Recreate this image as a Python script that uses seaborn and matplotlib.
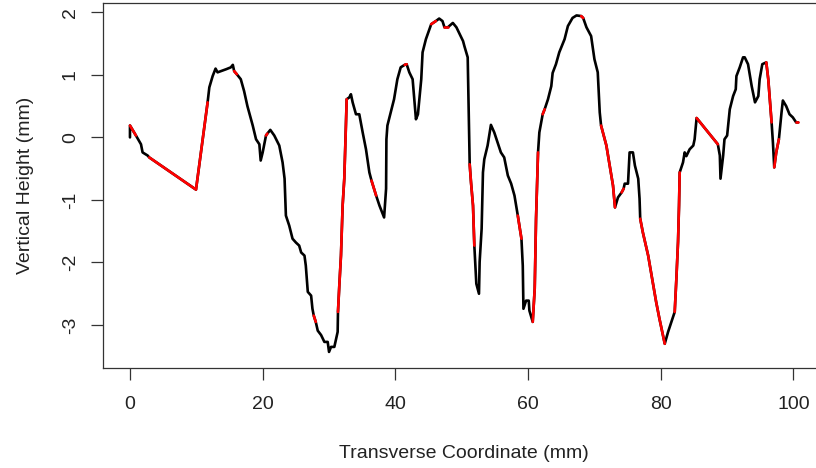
import numpy as np
import pandas as pd
import matplotlib
matplotlib.use("Agg")
import matplotlib.pyplot as plt
import seaborn as sns

# Transverse profile points (mm)
x_mm = [0.0, 0.0, 0.9, 1.66, 1.9, 2.66, 2.9, 9.95, 11.7, 11.96, 12.46, 12.9, 13.2, 14.5, 15.2,
        15.5, 15.7, 16.1, 16.7, 17.2, 17.7, 18.5, 19.0, 19.5, 19.7, 20.0, 20.5, 20.7, 21.15,
        21.75, 22.5, 23.0, 23.3, 23.5, 24.0, 24.5, 25.0, 25.5, 25.8, 26.3, 26.5, 26.8, 27.3,
        27.5, 27.7, 28.0, 28.3, 28.8, 29.3, 29.8, 30.0, 30.3, 30.8, 31.3, 31.35, 31.55, 31.8,
        32.05, 32.3, 32.55, 32.66, 33.06, 33.3, 33.56, 34.06, 34.56, 35.07, 35.57, 36.08, 36.4,
        37.1, 37.6, 38.3, 38.6, 38.65, 38.8, 39.3, 39.8, 40.3, 40.8, 41.4, 41.7, 42.1, 42.6,
        43.1, 43.4, 43.9, 44.1, 44.6, 45.4, 46.1, 46.6, 47.1, 47.4, 47.9, 48.66, 49.2, 49.7,
        50.2, 50.4, 50.9, 51.05, 51.2, 51.4, 51.7, 51.9, 52.2, 52.6, 52.7, 53.0, 53.2, 53.4,
        53.9, 54.4, 54.9, 55.4, 55.9, 56.4, 56.95, 57.45, 57.95, 58.45, 59.0, 59.2, 59.3, 59.7,
        60.1, 60.2, 60.7, 61.0, 61.2, 61.5, 61.7, 62.2, 62.5, 63.0, 63.5, 63.7, 64.2, 64.7,
        65.5, 66.0, 66.7, 67.3, 68.0, 68.3, 68.8, 69.5, 70.0, 70.5, 70.8, 71.0, 71.8, 72.3,
        72.8, 73.1, 73.55, 74.1, 74.4, 74.56, 75.06, 75.3, 75.8, 76.1, 76.6, 76.8, 76.9, 77.3,
        78.1, 78.6, 79.3, 79.8, 80.6, 81.1, 81.6, 82.1, 82.35, 82.6, 82.75, 82.85, 83.35, 83.6,
        83.85, 84.35, 84.9, 85.1, 85.4, 88.6, 88.9, 89.0, 89.4, 89.6, 90.0, 90.4, 90.9, 91.3,
        91.4, 91.9, 92.4, 92.65, 93.15, 93.7, 94.2, 94.7, 94.9, 95.3, 95.9, 96.2, 96.7, 96.9,
        97.1, 97.4, 97.8, 98.2, 98.4, 98.9, 99.4, 99.9, 100.4, 100.7]
height_mm = [0.0, 0.19, 0.03, -0.11, -0.24, -0.29, -0.32, -0.835, 0.56, 0.8, 0.98, 1.1, 1.04,
             1.09, 1.12, 1.16, 1.06, 1.01, 0.93, 0.74, 0.5, 0.19, -0.03, -0.11, -0.37, -0.24,
             0.03, 0.06, 0.12, 0.03, -0.13, -0.4, -0.66, -1.25, -1.41, -1.62, -1.68, -1.73,
             -1.84, -1.89, -2.05, -2.47, -2.53, -2.74, -2.85, -2.95, -3.09, -3.16, -3.27, -3.27,
             -3.43, -3.35, -3.35, -3.11, -2.79, -2.37, -1.89, -1.09, -0.66, 0.19, 0.61, 0.64,
             0.69, 0.56, 0.37, 0.37, 0.08, -0.19, -0.56, -0.69, -0.93, -1.09, -1.28, -0.82,
             -0.03, 0.19, 0.4, 0.61, 0.93, 1.12, 1.16, 1.17, 1.04, 0.93, 0.29, 0.37, 0.93, 1.36,
             1.57, 1.81, 1.86, 1.9, 1.86, 1.76, 1.76, 1.83, 1.76, 1.65, 1.54, 1.46, 1.28, 0.43,
             -0.43, -0.72, -1.09, -1.73, -2.34, -2.5, -1.99, -1.46, -0.56, -0.35, -0.13, 0.2,
             0.08, -0.08, -0.24, -0.32, -0.61, -0.74, -0.93, -1.25, -1.62, -2.05, -2.74, -2.61,
             -2.61, -2.77, -2.95, -2.42, -1.3, -0.24, 0.08, 0.37, 0.45, 0.61, 0.82, 1.03, 1.17,
             1.36, 1.57, 1.78, 1.91, 1.95, 1.94, 1.91, 1.76, 1.62, 1.25, 1.04, 0.4, 0.19, -0.13,
             -0.45, -0.77, -1.12, -0.96, -0.88, -0.82, -0.74, -0.74, -0.24, -0.24, -0.45, -0.66,
             -0.98, -1.3, -1.52, -1.89, -2.2, -2.63, -2.9, -3.3, -3.11, -2.95, -2.79, -2.26,
             -1.67, -1.09, -0.56, -0.4, -0.24, -0.3, -0.19, -0.13, -0.03, 0.31, -0.11, -0.29,
             -0.66, -0.29, -0.03, 0.03, 0.45, 0.66, 0.77, 0.98, 1.12, 1.28, 1.28, 1.17, 0.82,
             0.56, 0.66, 0.93, 1.17, 1.2, 0.93, 0.24, -0.08, -0.48, -0.24, -0.03, 0.4, 0.59, 0.5,
             0.37, 0.32, 0.24, 0.24]
# 1 = segment ending at this point is interpolated (drawn red)
interpolated = [0, 0, 1, 0, 0, 0, 0, 1, 1, 0, 0, 0, 0, 0, 0, 0, 0, 1, 0, 0, 0, 0, 0, 0, 0, 0, 0,
                1, 0, 0, 0, 0, 0, 0, 0, 0, 0, 0, 0, 0, 0, 0, 0, 0, 0, 1, 0, 0, 0, 0, 0, 0, 0, 0,
                0, 1, 1, 1, 1, 1, 1, 0, 0, 0, 0, 0, 0, 0, 0, 0, 1, 0, 0, 0, 0, 0, 0, 0, 0, 0, 0,
                1, 0, 0, 0, 0, 0, 0, 0, 0, 1, 0, 0, 0, 1, 0, 0, 0, 0, 0, 0, 0, 0, 1, 1, 1, 0, 0,
                0, 0, 0, 0, 0, 0, 0, 0, 0, 0, 0, 0, 0, 0, 1, 0, 0, 0, 0, 0, 0, 1, 1, 1, 0, 0, 1,
                0, 0, 0, 0, 0, 0, 0, 0, 0, 0, 1, 0, 0, 0, 0, 0, 0, 1, 1, 1, 1, 0, 0, 1, 0, 0, 0,
                0, 0, 0, 0, 0, 1, 1, 1, 1, 1, 1, 0, 0, 0, 1, 1, 1, 1, 0, 0, 0, 0, 0, 0, 0, 1, 0,
                0, 0, 0, 0, 0, 0, 0, 0, 0, 0, 0, 0, 0, 0, 0, 0, 0, 0, 1, 1, 0, 0, 1, 1, 0, 0, 0,
                0, 0, 0, 1]
x_ticks = [0, 20, 40, 60, 80, 100]
y_ticks = [-3, -2, -1, 0, 1, 2]

sns.set_theme(style="ticks")
plt.rcParams["font.family"] = ["Liberation Sans", "DejaVu Sans"]
plt.rcParams["axes.unicode_minus"] = False

df = pd.DataFrame({"x": x_mm, "y": height_mm})

fig = plt.figure(figsize=(8.16, 4.68), dpi=100)
ax = fig.add_axes([103.3 / 816, 1 - 368.3 / 468, (825 - 103.3) / 816, (368.3 - 3.3) / 468])

sns.lineplot(data=df, x="x", y="y", sort=False, estimator=None, color="black",
             linewidth=1.9, ax=ax)

# red overlay for interpolated runs
n = len(x_mm)
i = 1
while i < n:
    if interpolated[i]:
        j = i
        while j + 1 < n and interpolated[j + 1]:
            j += 1
        seg = df.iloc[i - 1:j + 1]
        sns.lineplot(data=seg, x="x", y="y", sort=False, estimator=None, color="red",
                     linewidth=1.9, ax=ax)
        i = j + 1
    else:
        i += 1

ax.set_xlim(-4.02, 104.75)
ax.set_ylim(-3.692, 2.144)
ax.set_xticks(x_ticks)
ax.set_yticks(y_ticks)
ax.set_xticklabels([str(v) for v in x_ticks])
ax.set_yticklabels([str(v) for v in y_ticks], rotation=90, va="center")
ax.set_xlabel("Transverse Coordinate (mm)", fontsize=14, color="#222222", labelpad=23)
ax.set_ylabel("Vertical Height (mm)", fontsize=14, color="#222222", labelpad=20)
ax.tick_params(axis="both", length=8.5, width=0.9, color="#333333", labelsize=14,
               labelcolor="#222222")
ax.tick_params(axis="x", pad=11.5)
ax.tick_params(axis="y", pad=9)
for s in ax.spines.values():
    s.set_color("#333333")
    s.set_linewidth(0.9)

fig.savefig("out.png", dpi=100)
